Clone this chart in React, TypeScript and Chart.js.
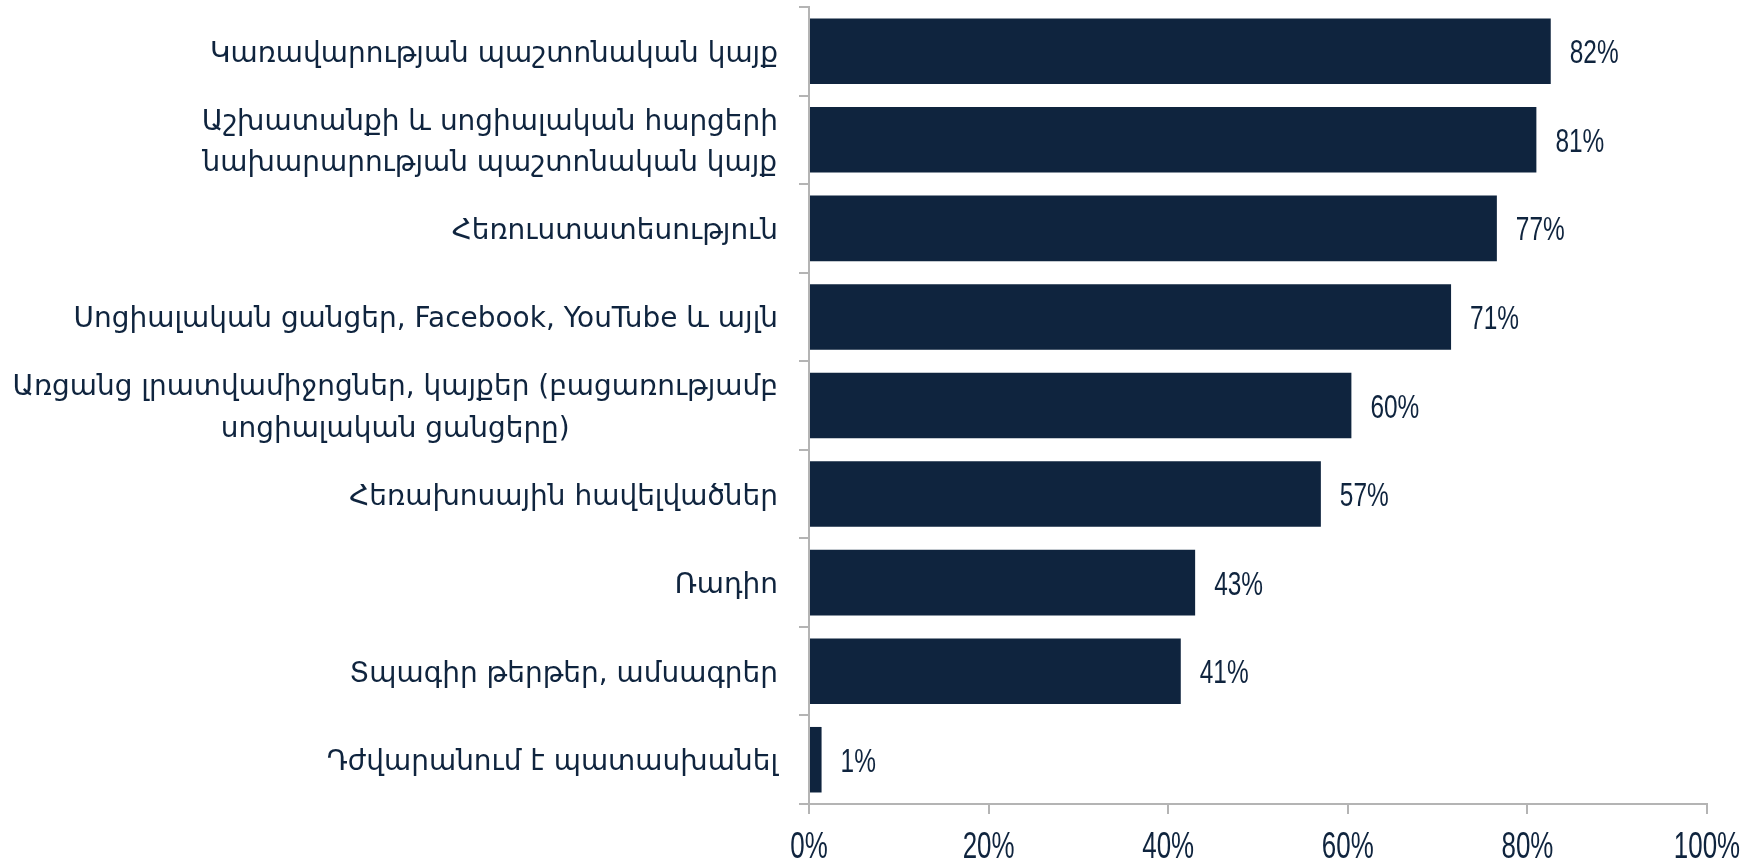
import React, { useEffect, useRef } from "react";
import { Chart, registerables } from "chart.js";

Chart.register(...registerables);

const categories: (string | string[])[] = [
  "Կառավարության պաշտոնական կայք",
  ["Աշխատանքի և սոցիալական հարցերի", "նախարարության պաշտոնական կայք"],
  "Հեռուստատեսություն",
  "Սոցիալական ցանցեր, Facebook, YouTube և այլն",
  ["Առցանց լրատվամիջոցներ, կայքեր (բացառությամբ", "սոցիալական ցանցերը)"],
  "Հեռախոսային հավելվածներ",
  "Ռադիո",
  "Տպագիր թերթեր, ամսագրեր",
  "Դժվարանում է պատասխանել",
];

const values = [82.6, 81.0, 76.6, 71.5, 60.4, 57.0, 43.0, 41.4, 1.4];
const valueLabels = ["82%", "81%", "77%", "71%", "60%", "57%", "43%", "41%", "1%"];
const xTickValues = [0, 20, 40, 60, 80, 100];
const xTickLabels = ["0%", "20%", "40%", "60%", "80%", "100%"];

const NAVY = "#0f243e";
const GREY = "#b4b4b4";
const LABEL_FONT = "29px 'DejaVu Sans', sans-serif";
const NUM_FAMILY = "'Liberation Sans', Arial, sans-serif";
const LABEL_TARGET_W = 568; // approx. width of the first category label in the reference

export default function App() {
  const ref = useRef<HTMLCanvasElement | null>(null);

  useEffect(() => {
    if (!ref.current) return;

    const drawScaled = (ctx: any, text: string, x: number, y: number, sx: number, align: string) => {
      const w = ctx.measureText(text).width * sx;
      let left = x;
      if (align === "center") left = x - w / 2;
      else if (align === "right") left = x - w;
      ctx.save();
      ctx.translate(left, y);
      ctx.scale(sx, 1);
      ctx.textAlign = "left";
      ctx.fillText(text, 0, 0);
      ctx.restore();
    };

    const textPlugin = {
      id: "texts",
      afterDraw(chart: any) {
        const ctx = chart.ctx;
        const xScale = chart.scales.x;
        const yScale = chart.scales.y;
        const meta = chart.getDatasetMeta(0);
        ctx.save();
        ctx.fillStyle = NAVY;
        ctx.textBaseline = "alphabetic";

        // value labels
        ctx.font = `33px ${NUM_FAMILY}`;
        meta.data.forEach((bar: any, i: number) => {
          drawScaled(ctx, valueLabels[i], bar.x + 19, bar.y + 12, 0.74, "left");
        });

        // x tick labels
        ctx.font = `36px ${NUM_FAMILY}`;
        const baseY = chart.chartArea.bottom + 54;
        xTickValues.forEach((v, i) => {
          drawScaled(ctx, xTickLabels[i], xScale.getPixelForValue(v), baseY, 0.72, "center");
        });

        // category labels
        ctx.font = LABEL_FONT;
        const first = Array.isArray(categories[0]) ? categories[0][0] : (categories[0] as string);
        const sx = LABEL_TARGET_W / ctx.measureText(first).width;
        const right = chart.chartArea.left - 31;
        const lineH = 41.5;
        categories.forEach((label, i) => {
          const lines = Array.isArray(label) ? label : [label];
          const y = yScale.getPixelForValue(i);
          const maxW = Math.max(...lines.map((l) => ctx.measureText(l).width)) * sx;
          const cx = right - maxW / 2;
          lines.forEach((line, j) => {
            const ly = y + (j - (lines.length - 1) / 2) * lineH + 10.5;
            drawScaled(ctx, line, cx, ly, sx, "center");
          });
        });
        ctx.restore();
      },
    };

    const chart = new Chart(ref.current, {
      type: "bar",
      data: {
        labels: categories as any,
        datasets: [
          {
            data: values,
            backgroundColor: NAVY,
            barPercentage: 0.74,
            categoryPercentage: 1,
          },
        ],
      },
      options: {
        animation: false,
        responsive: false,
        devicePixelRatio: 1,
        indexAxis: "y",
        layout: { padding: { top: 7, right: 54, left: 0, bottom: 0 } },
        plugins: {
          legend: { display: false },
          tooltip: { enabled: false },
        },
        scales: {
          x: {
            min: 0,
            max: 100,
            afterBuildTicks(scale: any) {
              scale.ticks = xTickValues.map((v) => ({ value: v }));
            },
            ticks: { display: false },
            grid: {
              display: true,
              drawOnChartArea: false,
              drawTicks: true,
              tickLength: 10,
              color: GREY,
              lineWidth: 2,
            },
            border: { display: true, color: GREY, width: 2 },
            afterFit(scale: any) {
              scale.height = 58;
            },
          },
          y: {
            ticks: { display: false },
            grid: {
              display: true,
              offset: true,
              drawOnChartArea: false,
              drawTicks: true,
              tickLength: 10,
              color: GREY,
              lineWidth: 2,
            },
            border: { display: true, color: GREY, width: 2 },
            afterFit(scale: any) {
              scale.width = 809;
            },
          },
        },
      },
      plugins: [textPlugin],
    } as any);

    return () => chart.destroy();
  }, []);

  return (
    <div style={{ position: "fixed", left: 0, top: 0, width: 1761, height: 862, background: "#fff" }}>
      <canvas ref={ref} width={1761} height={862} style={{ width: 1761, height: 862, display: "block" }} />
    </div>
  );
}
